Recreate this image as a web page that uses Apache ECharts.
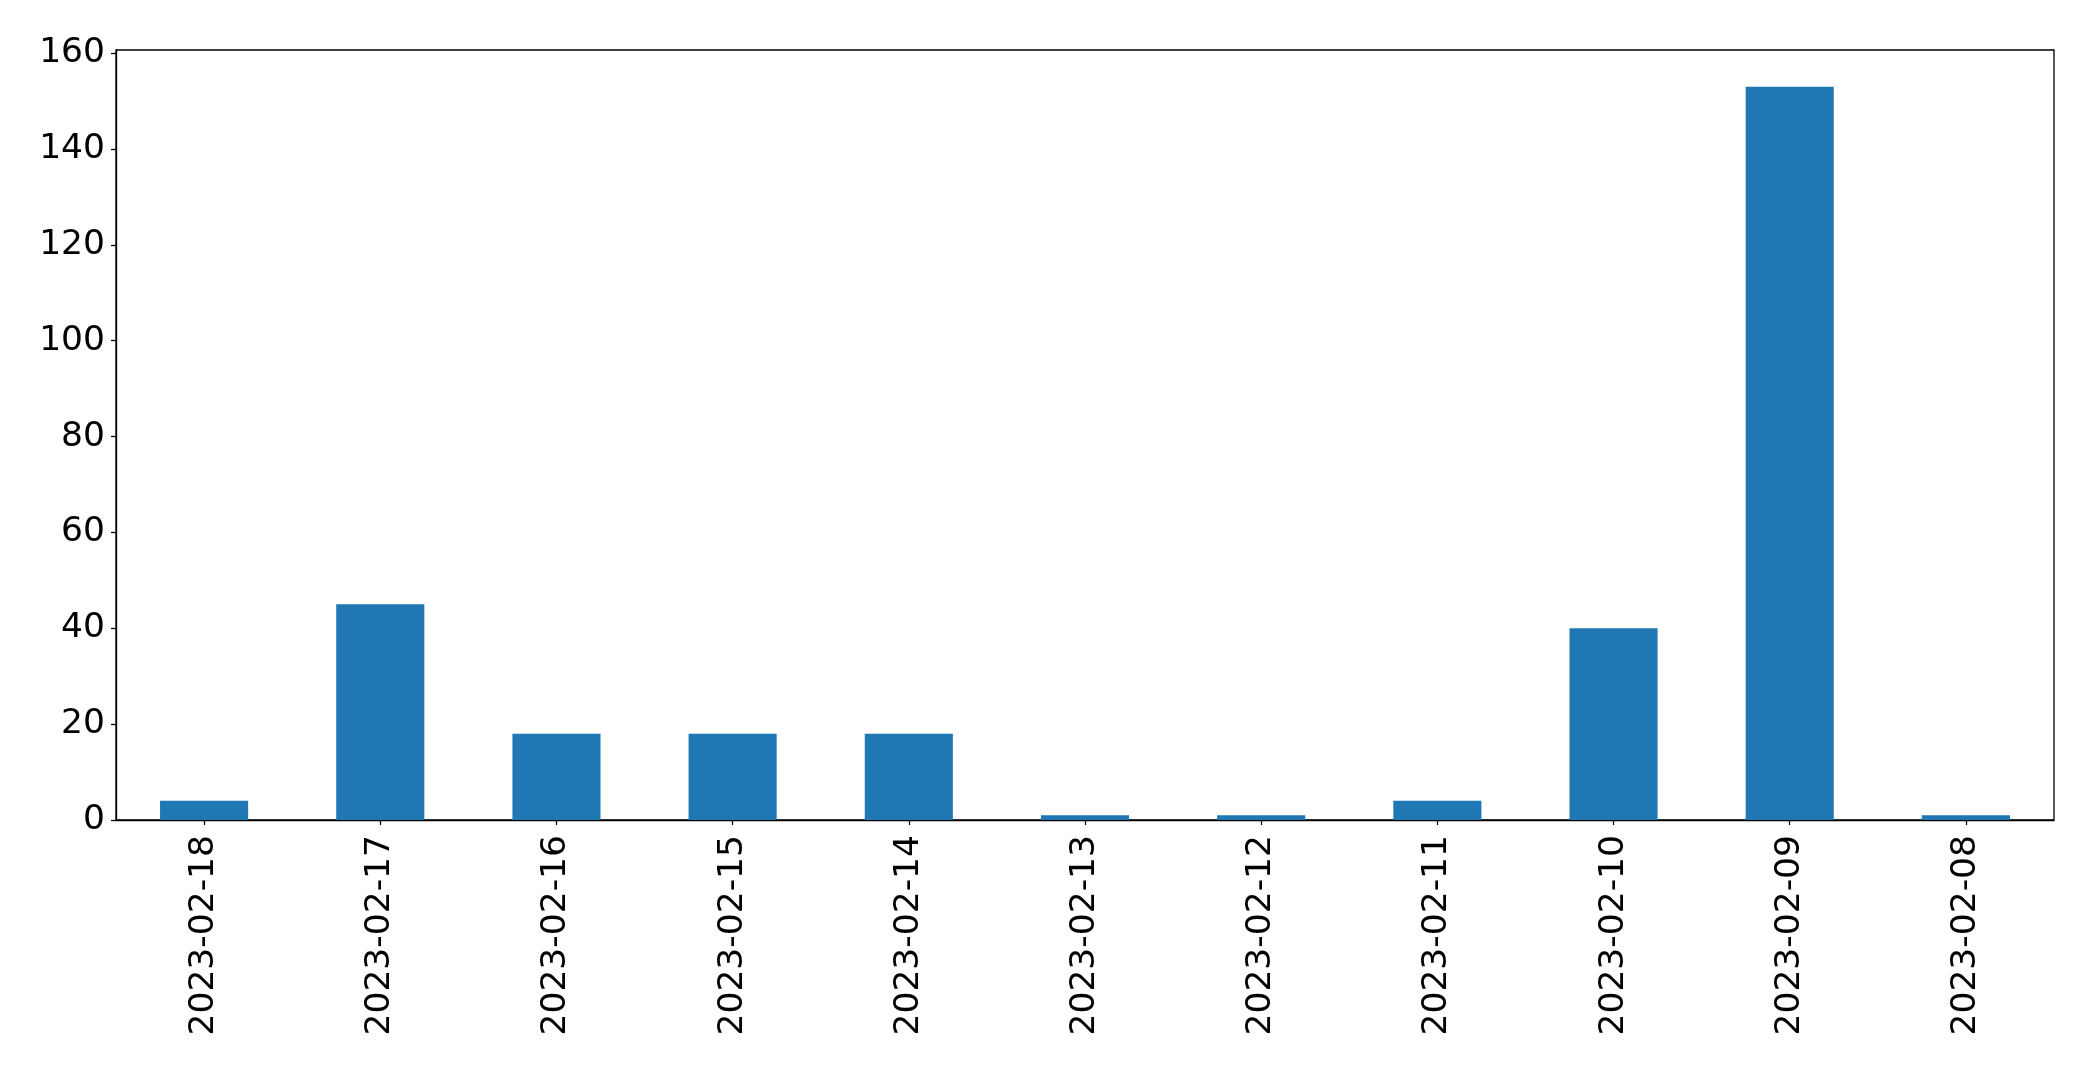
<!DOCTYPE html>
<html>
<head>
<meta charset="utf-8">
<script src="https://cdn.jsdelivr.net/npm/echarts@6/dist/echarts.min.js"></script>
<style>html,body{margin:0;padding:0;background:#fff}#c{width:2093px;height:1072px}</style>
</head>
<body>
<div id="c"></div>
<script>
const categories = ['2023-02-18','2023-02-17','2023-02-16','2023-02-15','2023-02-14','2023-02-13','2023-02-12','2023-02-11','2023-02-10','2023-02-09','2023-02-08'];
const counts = [4, 45, 18, 18, 18, 1, 1, 4, 40, 153, 1];
const yMin = 0;
const yMax = 160.65;
const yStep = 20;

const chart = echarts.init(document.getElementById('c'), null, {renderer: 'canvas'});
const font = 'DejaVu Sans';
chart.setOption({
  animation: false,
  backgroundColor: '#fff',
  grid: {left: 116, right: 39, top: 50, bottom: 252, show: true, borderColor: '#000', borderWidth: 1.3, backgroundColor: 'transparent'},
  xAxis: {
    type: 'category',
    data: categories,
    boundaryGap: true,
    axisLine: {show: true, lineStyle: {color: '#000', width: 1.3}},
    axisTick: {show: true, alignWithLabel: true, length: 5, lineStyle: {color: '#000', width: 1.3}},
    axisLabel: {rotate: 90, margin: 15, color: '#000', fontFamily: font, fontSize: 34.5, interval: 0},
    splitLine: {show: false}
  },
  yAxis: {
    type: 'value',
    min: yMin, max: yMax, interval: yStep,
    axisLine: {show: true, lineStyle: {color: '#000', width: 1.3}},
    axisTick: {show: true, length: 5, lineStyle: {color: '#000', width: 1.3}},
    axisLabel: {margin: 11, color: '#000', fontFamily: font, fontSize: 34.5, showMaxLabel: false,
      formatter: v => (v % yStep === 0 ? String(v) : '')},
    splitLine: {show: false}
  },
  series: [{
    type: 'bar',
    data: counts,
    barWidth: '50%',
    itemStyle: {color: '#1f77b4'}
  }]
});
</script>
</body>
</html>
